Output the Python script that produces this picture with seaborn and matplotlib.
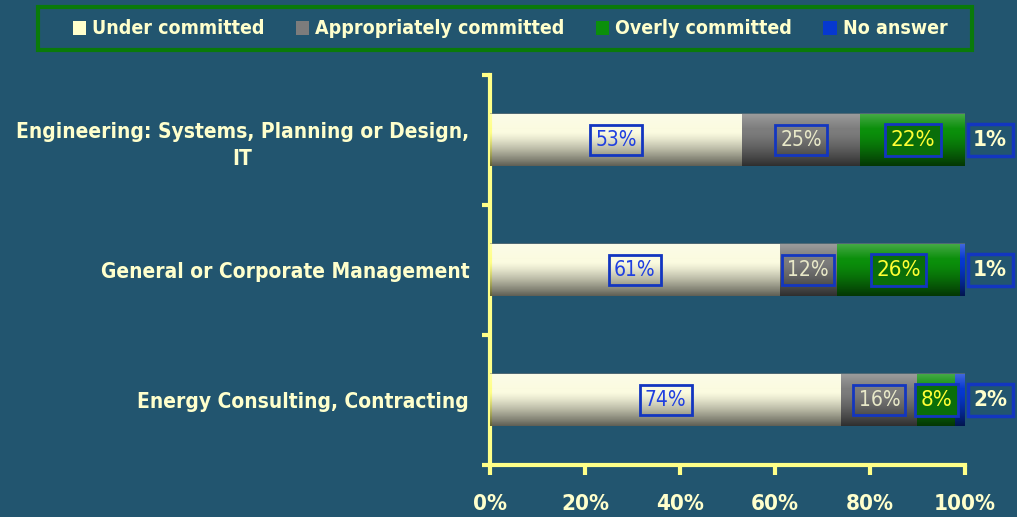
import numpy as np
import pandas as pd
import matplotlib
matplotlib.use("Agg")
import matplotlib.pyplot as plt
from matplotlib.patches import Patch, Rectangle
import seaborn as sns

# ─────────────────────────────────────────────
# Data
# ─────────────────────────────────────────────
categories  = ["Engineering: Systems, Planning or Design,\nIT",
               "General or Corporate Management",
               "Energy Consulting, Contracting"]
under       = [53, 61, 74]
appropriate = [25, 12, 16]
overly      = [22, 26, 8]
no_answer   = [1, 1, 2]

series_names = ["Under committed", "Appropriately committed", "Overly committed", "No answer"]
x_ticks      = [0, 20, 40, 60, 80, 100]

BG       = "#22556f"
CREAM    = "#ffffcc"
AXIS_Y   = "#ffff88"
COLORS   = ["#fbfbe0", "#7c7c7c", "#0b8f0b", "#0638d0"]
BOX_EDGE = "#1336c0"
FONT     = ["DejaVu Sans"]
STRETCH  = "condensed"

df = pd.DataFrame({
    "category": categories,
    "under": under,
    "appropriate": appropriate,
    "overly": overly,
    "no_answer": no_answer,
})
parts = ["under", "appropriate", "overly", "no_answer"]
cum = df[parts].cumsum(axis=1)

sns.set_theme(style="white")
plt.rcParams["font.family"] = FONT
plt.rcParams["font.stretch"] = STRETCH

fig = plt.figure(figsize=(10.17, 5.17), dpi=100, facecolor=BG)
ax = fig.add_axes([0.4818, 0.1006, 0.467, 0.7544])
ax.set_facecolor(BG)

# stacked bars: draw cumulative totals from longest to shortest
for i in range(len(parts) - 1, -1, -1):
    sns.barplot(x=cum[parts[i]], y=df["category"], orient="h", color=COLORS[i],
                width=0.4, saturation=1, edgecolor="none", ax=ax)

ax.set_xlim(0, 100)
ylim = ax.get_ylim()

# cylinder-like shading over each bar row
n = 64
t = np.linspace(0, 1, n)
shade = np.zeros((n, 1, 4))
dark = np.clip((t - 0.35) / 0.65, 0, 1) ** 1.3 * 0.62
light = np.clip(1 - t / 0.3, 0, 1) * 0.25
shade[:, 0, 3] = dark + light
shade[:, 0, :3] = np.where((light > dark)[:, None], 1.0, 0.0)
shade[0, 0, :3] = 0.35
shade[0, 0, 3] = 0.6
for k in range(len(categories)):
    x1 = min(cum["no_answer"][k], 100)
    ax.imshow(shade, extent=(0, x1, k + 0.2, k - 0.2), aspect="auto",
              interpolation="bilinear", zorder=3)
ax.set_ylim(ylim)
ax.set_xlim(0, 100)

# value labels
box = dict(boxstyle="square,pad=0.25", facecolor="none", edgecolor=BOX_EDGE, linewidth=2)
for k in range(len(categories)):
    starts = [0] + list(cum.iloc[k, :3])
    vals = df.loc[k, parts].tolist()
    ax.text(starts[0] + vals[0] / 2, k, f"{vals[0]}%", ha="center", va="center",
            fontsize=15, color="#2040e0", bbox=box, zorder=5)
    ax.text(starts[1] + vals[1] / 2, k, f"{vals[1]}%", ha="center", va="center",
            fontsize=15, color="#e8e8c8", bbox=box, zorder=5)
    ax.text(starts[2] + vals[2] / 2, k, f"{vals[2]}%", ha="center", va="center",
            fontsize=16, color="#ffff33", bbox=dict(box, facecolor="#0a6e0a"), zorder=5)
    ax.text(105.3, k, f"{vals[3]}%", ha="center", va="center", fontsize=16,
            fontweight="bold", color=CREAM, clip_on=False, zorder=5,
            bbox=dict(box, facecolor=BG, linewidth=2.5))

# axes styling
sns.despine(ax=ax, top=True, right=True)
for side in ["left", "bottom"]:
    ax.spines[side].set_color(AXIS_Y)
    ax.spines[side].set_linewidth(3)
ax.set_xticks(x_ticks)
ax.set_xticklabels([f"{v}%" for v in x_ticks])
ax.set_yticks([-0.5, 0.5, 1.5, 2.5], minor=True)
ax.tick_params(axis="y", which="minor", left=True, length=6, width=3, color=AXIS_Y)
ax.tick_params(axis="y", which="major", left=False, length=0, pad=15)
ax.tick_params(axis="x", bottom=True, length=7, width=3, color=AXIS_Y, pad=14)
for lab in ax.get_xticklabels():
    lab.set_color(CREAM)
    lab.set_fontweight("bold")
    lab.set_fontsize(16)
for lab in ax.get_yticklabels():
    lab.set_color(CREAM)
    lab.set_fontweight("bold")
    lab.set_fontsize(15)
    lab.set_multialignment("center")
    lab.set_linespacing(1.45)
ax.set_xlabel("")
ax.set_ylabel("")
ax.grid(False)

# legend: entries centred, green frame drawn as its own box
handles = [Patch(facecolor=c, edgecolor="none") for c in COLORS]
handles[0] = Patch(facecolor=CREAM, edgecolor="none")
leg = fig.legend(handles, series_names, loc="center", ncol=4,
                 bbox_to_anchor=(510 / 1017, 1 - 29 / 517), frameon=False,
                 handlelength=0.7, handleheight=0.7, handletextpad=0.3,
                 columnspacing=1.6, borderaxespad=0,
                 prop={"weight": "bold", "size": 14, "family": FONT, "stretch": STRETCH})
for txt in leg.get_texts():
    txt.set_color(CREAM)
fig.patches.append(Rectangle((38 / 1017, 1 - 50 / 517), 934 / 1017, 43 / 517,
                             transform=fig.transFigure, fill=False,
                             edgecolor="#0a7a0a", linewidth=3))

fig.savefig("out.png", dpi=100, facecolor=BG)
